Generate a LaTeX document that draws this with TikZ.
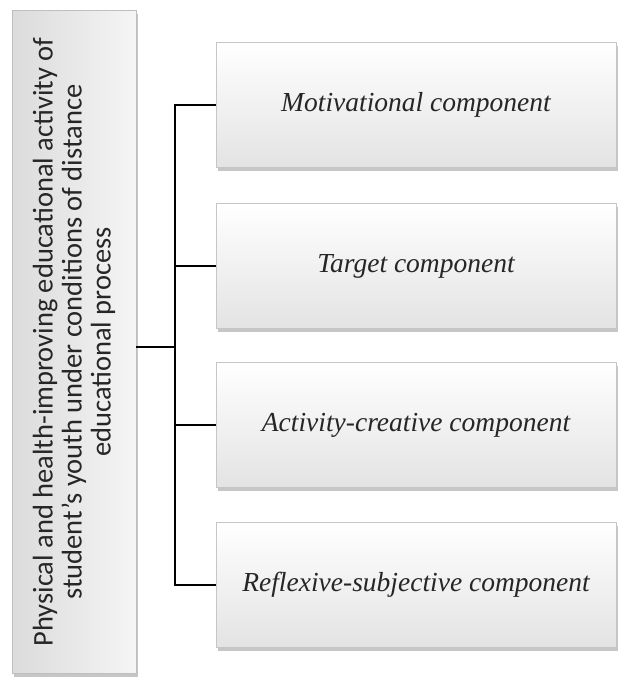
\documentclass[tikz,border=0pt]{standalone}
\usepackage{fontspec}
\setmainfont{Liberation Serif}
\newfontfamily\calib{Carlito}
\usetikzlibrary{shadows}
\begin{document}
\begin{tikzpicture}[x=1pt,y=-1pt,
  compbox/.style={draw=gray!45, line width=0.6pt, top color=white, bottom color=gray!22,
    minimum width=400pt, minimum height=125pt, inner sep=0pt,
    drop shadow={shadow xshift=2pt, shadow yshift=-3pt, opacity=0.45, fill=gray},
    font=\fontsize{27.5}{30}\selectfont\itshape, text=black!85},
  mainbox/.style={draw=gray!50, line width=0.6pt, left color=gray!28, right color=gray!8,
    minimum width=663pt, minimum height=124pt, inner sep=0pt, rotate=90,
    drop shadow={shadow xshift=2pt, shadow yshift=-3pt, opacity=0.45, fill=gray},
    font=\calib\fontsize{28.5}{29}\selectfont, text=black!85, align=center},
  conn/.style={line width=2.6pt, black}]
\useasboundingbox (0,0) rectangle (618,680);
\node[mainbox] (main) at (74,342) {Physical and health-improving educational activity of\\student’s youth under conditions of distance\\educational process};
\node[compbox] (c1) at (416,105) {Motivational component};
\node[compbox] (c2) at (416,266) {Target component};
\node[compbox] (c3) at (416,425) {Activity-creative component};
\node[compbox] (c4) at (416,585) {Reflexive-subjective component};
\coordinate (j1) at (175,105);
\coordinate (j4) at (175,585);
\coordinate (jm) at (175,347);
\draw[conn] (c1.west) -- (j1) -- (j4) -- (c4.west);
\draw[conn] (c2.west) -- (c2.west -| j1);
\draw[conn] (c3.west) -- (c3.west -| j1);
\draw[conn] (main.south |- jm) -- (jm);
\end{tikzpicture}
\end{document}
